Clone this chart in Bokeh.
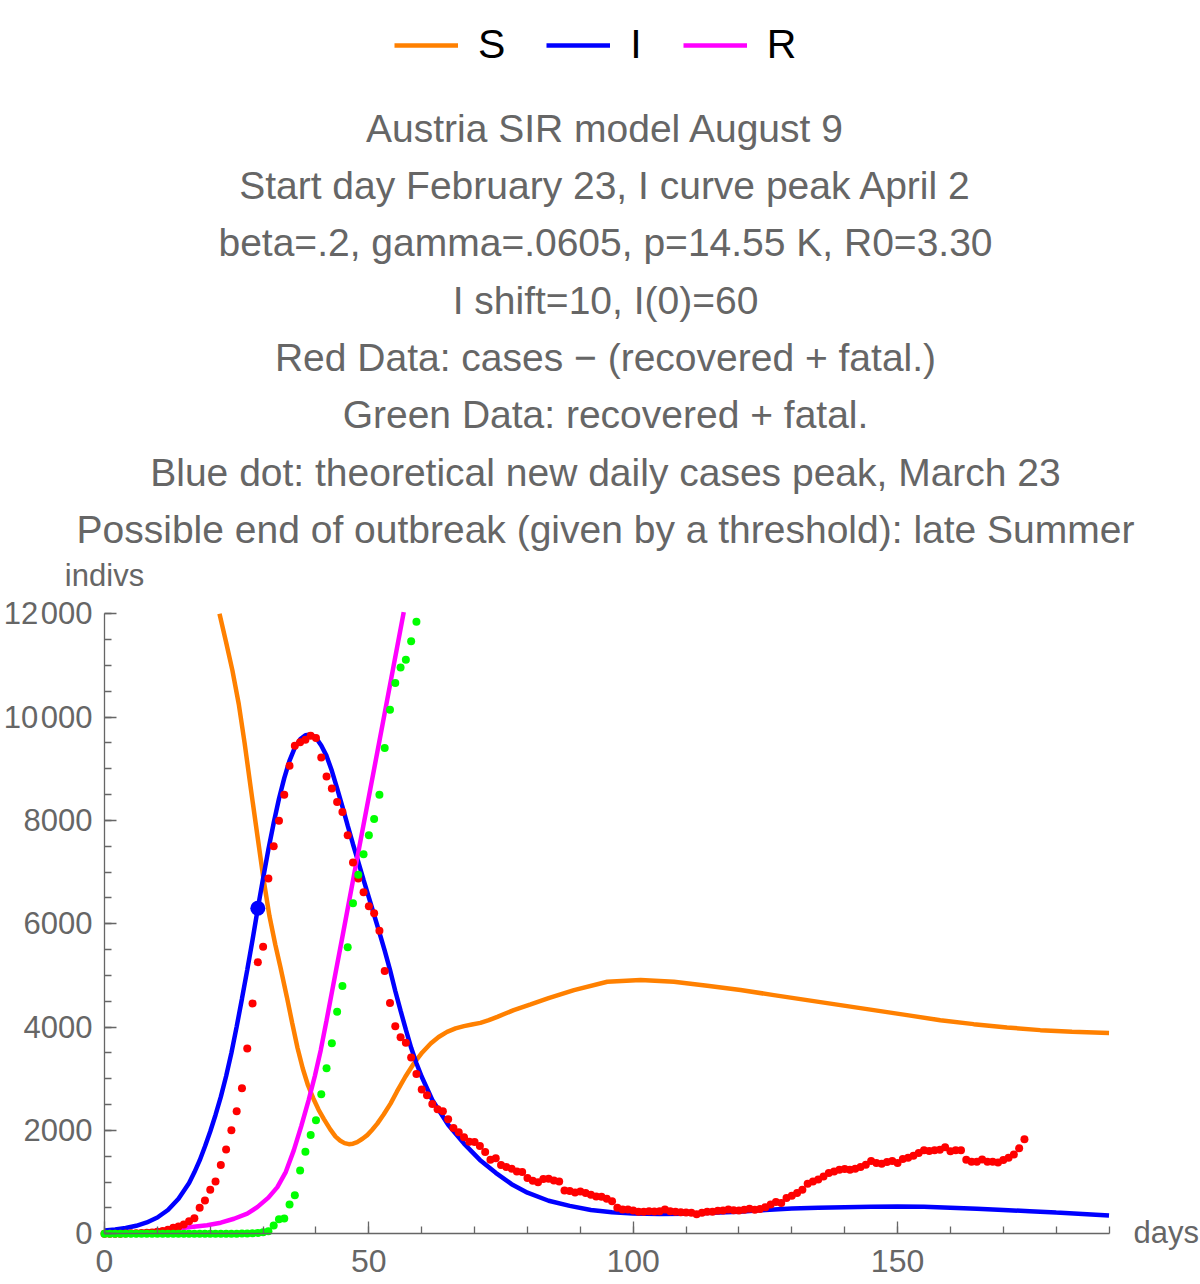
from bokeh.plotting import figure
from bokeh.models import (Range1d, Label, Legend, LegendItem, SingleIntervalTicker)
from bokeh.embed import file_html
from bokeh.resources import INLINE

# ---------------- data ----------------
red_days = list(range(175))
red_vals = [0, 2, 2, 3, 5, 9, 10, 14, 18, 24,
            41, 55, 79, 116, 141, 180, 245, 303, 504, 646,
            853, 1014, 1330, 1634, 2003, 2371, 2817, 3587, 4459, 5254,
            5557, 6875, 7503, 7994, 8498, 9060, 9448, 9512, 9564, 9641,
            9597, 9221, 8852, 8620, 8356, 8162, 7716, 7185, 6875, 6611,
            6340, 6204, 5867, 5085, 4465, 4019, 3803, 3700, 3412, 3094,
            2792, 2681, 2513, 2410, 2371, 2216, 2047, 1964, 1867, 1784,
            1776, 1698, 1582, 1435, 1460, 1330, 1291, 1260, 1208, 1194,
            1078, 1028, 1000, 1059, 1066, 1033, 1014, 839, 826, 801,
            820, 788, 756, 723, 717, 679, 632, 504, 471, 471,
            452, 426, 426, 438, 432, 438, 471, 438, 426, 419,
            413, 407, 380, 407, 426, 426, 446, 452, 471, 458,
            452, 465, 485, 465, 480, 516, 565, 615, 594, 691,
            736, 788, 853, 969, 1014, 1053, 1111, 1176, 1208, 1240,
            1253, 1240, 1260, 1292, 1338, 1408, 1369, 1357, 1388, 1408,
            1369, 1446, 1473, 1512, 1563, 1615, 1601, 1615, 1628, 1673,
            1596, 1615, 1615, 1435, 1396, 1396, 1440, 1396, 1396, 1382,
            1427, 1473, 1537, 1654, 1828]

green_days = list(range(60))
green_vals = [0, 0, 0, 0, 0, 0, 0, 0, 0, 0,
              0, 0, 0, 0, 0, 0, 0, 0, 0, 0,
              0, 0, 1, 1, 2, 3, 5, 8, 10, 15,
              30, 50, 161, 284, 297, 568, 748, 1227, 1590, 1912,
              2197, 2700, 3205, 3690, 4297, 4795, 5545, 6398, 6947, 7348,
              7716, 8026, 8498, 9403, 10145, 10663, 10960, 11109, 11470, 11846]

s_days = [21.75, 23.0, 24.2, 25.4, 26.5, 27.7, 28.9, 30.1, 31.2, 32.3, 33.3, 34.5,
          35.5, 36.5, 37.5, 38.5, 39.5, 40.5, 41.5, 42.7, 43.7, 44.6, 45.4, 46.2,
          47.0, 47.8, 48.8, 49.7, 50.6, 51.6, 52.8, 54.1, 55.3, 56.9, 58.5, 60.1,
          61.7, 63.2, 64.8, 66.4, 68.0, 69.5, 71.1, 72.7, 74.3, 77.4, 80.6, 84.0,
          88.8, 95.1, 101.4, 107.7, 114.0, 120.3, 126.6, 132.9, 139.2, 145.5,
          151.8, 158.1, 164.4, 170.7, 177.0, 183.0, 190.0]
s_vals = [12000, 11450, 10900, 10250, 9500, 8600, 7720, 6850, 6150, 5600, 5150, 4580,
          4080, 3600, 3200, 2870, 2620, 2400, 2220, 2020, 1880, 1800, 1755, 1735,
          1745, 1776, 1840, 1910, 2010, 2133, 2310, 2520, 2750, 3040, 3296, 3510,
          3684, 3810, 3909, 3975, 4019, 4050, 4083, 4135, 4200, 4329, 4440, 4560,
          4717, 4878, 4911, 4878, 4800, 4717, 4620, 4523, 4426, 4329,
          4232, 4135, 4058, 3994, 3942, 3912, 3885]

i_days = [0, 2, 4, 6, 8, 10, 12, 14, 16, 17, 18, 19, 20, 21, 22, 23, 24, 25, 26, 27,
          28, 29, 30, 31, 32, 33, 34, 35, 36, 37, 38, 39, 40, 41, 42, 43, 44, 45, 46,
          47, 48, 49, 50, 51, 52, 53, 54, 55, 56, 57, 58, 59, 60, 62, 65, 68, 71, 74,
          77, 80, 84, 88, 92, 96, 100, 105, 110, 115, 120, 125, 130, 135, 140, 145,
          150, 155, 160, 165, 170, 175, 180, 185, 190]
i_vals = [65, 85, 112, 155, 220, 315, 460, 680, 985, 1190, 1420, 1690, 1980, 2300,
          2650, 3050, 3500, 4010, 4550, 5110, 5690, 6300, 6880, 7440, 7950, 8420, 8820,
          9160, 9410, 9570, 9650, 9665, 9600, 9450, 9250, 8960, 8620, 8270, 7900, 7540,
          7200, 6850, 6510, 6170, 5830, 5480, 5110, 4700, 4320, 3950, 3600, 3300, 3040,
          2590, 2110, 1745, 1430, 1180, 960, 795, 640, 540, 460, 415, 392, 385, 390,
          405, 428, 462, 488, 505, 516, 525, 529, 522, 505, 485, 462, 437, 410, 385,
          352]

r_days = [0, 4, 8, 12, 16, 19.4, 22, 24.5, 27, 28.9, 31, 32.7, 34.3, 35.8, 37.2,
          38.6, 39.8, 40.9, 42.0, 43.2, 45.0, 47.5, 50.3, 52.8, 56.6]
r_vals = [0, 12, 38, 80, 125, 165, 215, 291, 390, 516, 700, 903, 1200, 1615, 2080,
          2584, 3060, 3554, 4130, 4780, 5750, 7110, 8620, 9970, 12032]

peak_day = [29]
peak_val = [6300]

title_lines = [
    "Austria SIR model August 9",
    "Start day February 23, I curve peak April 2",
    "beta=.2, gamma=.0605, p=14.55 K, R0=3.30",
    "I shift=10, I(0)=60",
    "Red Data: cases \u2212 (recovered + fatal.)",
    "Green Data: recovered + fatal.",
    "Blue dot: theoretical new daily cases peak, March 23",
    "Possible end of outbreak (given by a threshold): late Summer",
]
legend_labels = ["S", "I", "R"]
y_label_overrides = {12000: "12\u200a000", 10000: "10\u200a000"}

# ---------------- layout (frame = whole canvas) ----------------
FONT = "Liberation Sans"
GRAY = "#666666"
W, H = 1200, 1284
PX_DAY = 5.287
PX_UNIT = 620.0 / 12000.0
X0 = 104.0      # canvas x of day 0
Y0 = 1233.3     # canvas y of value 0
x_start = -X0 / PX_DAY
x_end = x_start + W / PX_DAY
y_start = -(H - Y0) / PX_UNIT
y_end = y_start + H / PX_UNIT

p = figure(width=W, height=H, x_range=Range1d(x_start, x_end),
           y_range=Range1d(y_start, y_end), output_backend="svg",
           toolbar_location=None, title=None,
           min_border_left=0, min_border_right=0, min_border_top=0,
           min_border_bottom=0)
p.outline_line_color = None
p.xgrid.visible = False
p.ygrid.visible = False
p.background_fill_color = "white"
p.border_fill_color = "white"

xa = p.xaxis[0]
ya = p.yaxis[0]
xa.ticker = SingleIntervalTicker(interval=50, num_minor_ticks=5)
ya.ticker = SingleIntervalTicker(interval=2000, num_minor_ticks=4)
xa.fixed_location = 0
ya.fixed_location = 0
xa.bounds = (0, 190)
ya.bounds = (0, 12000)
ya.major_label_overrides = y_label_overrides
for ax in (xa, ya):
    ax.axis_line_color = GRAY
    ax.axis_line_width = 1.3
    ax.major_tick_line_color = GRAY
    ax.minor_tick_line_color = GRAY
    ax.major_tick_line_width = 1.3
    ax.minor_tick_line_width = 1.3
    ax.major_tick_in = 12
    ax.major_tick_out = 0
    ax.minor_tick_in = 7
    ax.minor_tick_out = 0
    ax.major_label_text_font = FONT
    ax.major_label_text_color = GRAY
xa.major_label_text_font_size = "32px"
ya.major_label_text_font_size = "31px"
xa.major_label_standoff = 16
ya.major_label_standoff = 12

LW = 4.5
s_line = p.line(s_days, s_vals, line_color="#FF8000", line_width=LW)
i_line = p.line(i_days, i_vals, line_color="#0000FF", line_width=LW)
r_line = p.line(r_days, r_vals, line_color="#FF00FF", line_width=LW)
p.scatter(red_days, red_vals, size=8, fill_color="#FF0000", line_color=None)
p.scatter(green_days, green_vals, size=8, fill_color="#00FF00", line_color=None)
p.scatter(peak_day, peak_val, size=15, fill_color="#0000FF", line_color=None)

legend = Legend(items=[LegendItem(label=legend_labels[0], renderers=[s_line]),
                       LegendItem(label=legend_labels[1], renderers=[i_line]),
                       LegendItem(label=legend_labels[2], renderers=[r_line])],
                location=(394, H - 68),
                orientation="horizontal", glyph_width=64, glyph_height=40,
                label_standoff=20, spacing=41, padding=0, margin=0,
                label_width=0, label_height=40,
                label_text_font=FONT, label_text_font_size="41px",
                label_text_color="black", border_line_alpha=0,
                background_fill_alpha=0)
p.add_layout(legend, "center")

for k, line in enumerate(title_lines):
    base = 127.7 + 57.3 * k
    p.add_layout(Label(x=605, y=H - base, x_units="screen", y_units="screen",
                       text=line, text_align="center", text_baseline="alphabetic",
                       text_font=FONT, text_font_size="39px", text_color=GRAY))

p.add_layout(Label(x=104, y=H - 575, x_units="screen", y_units="screen",
                   text="indivs", text_align="center", text_baseline="alphabetic",
                   text_font=FONT, text_font_size="31px", text_color=GRAY))
p.add_layout(Label(x=1133, y=H - 1232, x_units="screen", y_units="screen",
                   text="days", text_align="left", text_baseline="alphabetic",
                   text_font=FONT, text_font_size="31px", text_color=GRAY))

open("out.html", "w").write(file_html(p, INLINE))
